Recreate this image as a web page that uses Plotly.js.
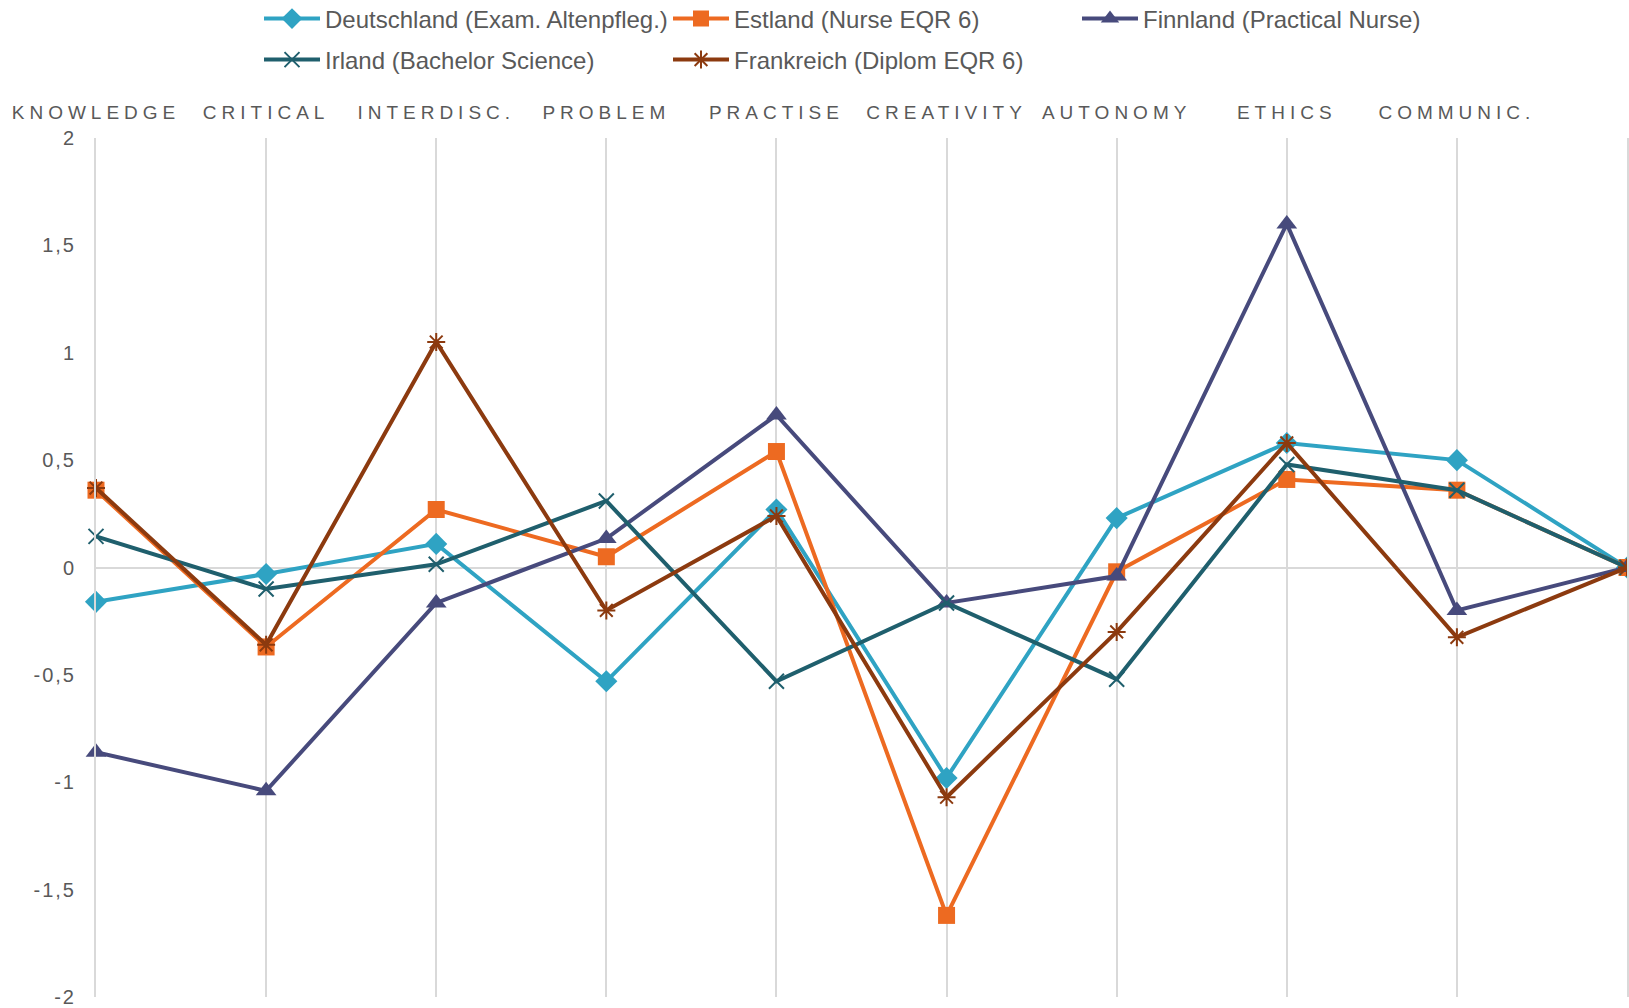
<!DOCTYPE html>
<html>
<head>
<meta charset="utf-8">
<script src="https://cdn.plot.ly/plotly-3.0.1.min.js"></script>
<style>
  html, body { margin: 0; padding: 0; background: #fff; }
  #chart { width: 1629px; height: 1008px; }
  .xtick text { letter-spacing: 5px; }
  .ytick text { letter-spacing: 2px; }
</style>
</head>
<body>
<div id="chart"></div>
<script>
const categories = ['KNOWLEDGE', 'CRITICAL', 'INTERDISC.', 'PROBLEM', 'PRACTISE', 'CREATIVITY', 'AUTONOMY', 'ETHICS', 'COMMUNIC.', ''];

const deutschland = [-0.16, -0.03, 0.11, -0.53, 0.27, -0.98, 0.23, 0.58, 0.50, 0];
const estland     = [0.36, -0.37, 0.27, 0.05, 0.54, -1.62, -0.02, 0.41, 0.36, 0];
const finnland    = [-0.86, -1.04, -0.165, 0.135, 0.71, -0.165, -0.04, 1.60, -0.20, 0];
const irland      = [0.145, -0.10, 0.015, 0.31, -0.53, -0.165, -0.52, 0.48, 0.36, 0];
const frankreich  = [0.37, -0.36, 1.05, -0.20, 0.24, -1.07, -0.30, 0.58, -0.325, 0];

const seriesNames = [
  'Deutschland (Exam. Altenpfleg.)',
  'Estland (Nurse EQR 6)',
  'Finnland (Practical Nurse)',
  'Irland (Bachelor Science)',
  'Frankreich (Diplom EQR 6)'
];

const yTickVals = [2, 1.5, 1, 0.5, 0, -0.5, -1, -1.5, -2];
const yTickText = ['2', '1,5', '1', '0,5', '0', '-0,5', '-1', '-1,5', '-2'];

const xIdx = categories.map((c, i) => i);

function trace(name, y, color, symbol, size, open, legend) {
  return {
    type: 'scatter', mode: 'lines+markers', name: name,
    x: xIdx, y: y, legend: legend,
    cliponaxis: false,
    line: { color: color, width: 4 },
    marker: open
      ? { symbol: symbol, size: size, color: color, line: { color: color, width: 2 } }
      : { symbol: symbol, size: size, color: color, line: { width: 0 } }
  };
}

const data = [
  trace(seriesNames[0], deutschland, '#2fa3c3', 'diamond', 17, false, 'legend'),
  trace(seriesNames[1], estland, '#ed6a21', 'square', 17, false, 'legend'),
  trace(seriesNames[2], finnland, '#474a7c', 'triangle-up', 18, false, 'legend'),
  trace(seriesNames[3], irland, '#1f5f6d', 'x-thin-open', 15, true, 'legend2'),
  trace(seriesNames[4], frankreich, '#8c3a0f', 'asterisk-open', 15, true, 'legend2')
];

const legendCommon = {
  orientation: 'h',
  xref: 'container', yref: 'container',
  xanchor: 'left', yanchor: 'middle',
  entrywidth: 338, entrywidthmode: 'pixels',
  itemwidth: 56,
  font: { family: 'Liberation Sans, Arial, sans-serif', size: 24, color: '#595959' },
  bgcolor: 'rgba(0,0,0,0)', borderwidth: 0, traceorder: 'normal'
};

const layout = {
  width: 1629, height: 1008,
  margin: { l: 96, r: 2, t: 138, b: 11, pad: 0 },
  paper_bgcolor: '#ffffff', plot_bgcolor: '#ffffff',
  font: { family: 'Liberation Sans, Arial, sans-serif', color: '#595959' },
  showlegend: true,
  legend: Object.assign({}, legendCommon, { x: 259 / 1629, y: 1 - 19 / 1008 }),
  legend2: Object.assign({}, legendCommon, { x: 259 / 1629, y: 1 - 60 / 1008 }),
  xaxis: {
    side: 'top', range: [0, 9], tickmode: 'array', tickvals: xIdx, ticktext: categories,
    showgrid: true, gridcolor: '#d9d9d9', gridwidth: 2,
    zeroline: false, showline: false, ticks: '',
    ticklabelstandoff: 14,
    tickfont: { family: 'Liberation Sans, Arial, sans-serif', size: 19, color: '#595959' },
    fixedrange: true
  },
  yaxis: {
    range: [-2, 2], tickmode: 'array', tickvals: yTickVals, ticktext: yTickText,
    showgrid: false, zeroline: true, zerolinecolor: '#d9d9d9', zerolinewidth: 2,
    showline: true, mirror: true, linecolor: '#d9d9d9', linewidth: 2, ticks: '',
    ticklabelstandoff: 14,
    tickfont: { family: 'Liberation Sans, Arial, sans-serif', size: 20, color: '#595959' },
    fixedrange: true
  }
};

Plotly.newPlot('chart', data, layout, { displayModeBar: false, staticPlot: true });
</script>
</body>
</html>
